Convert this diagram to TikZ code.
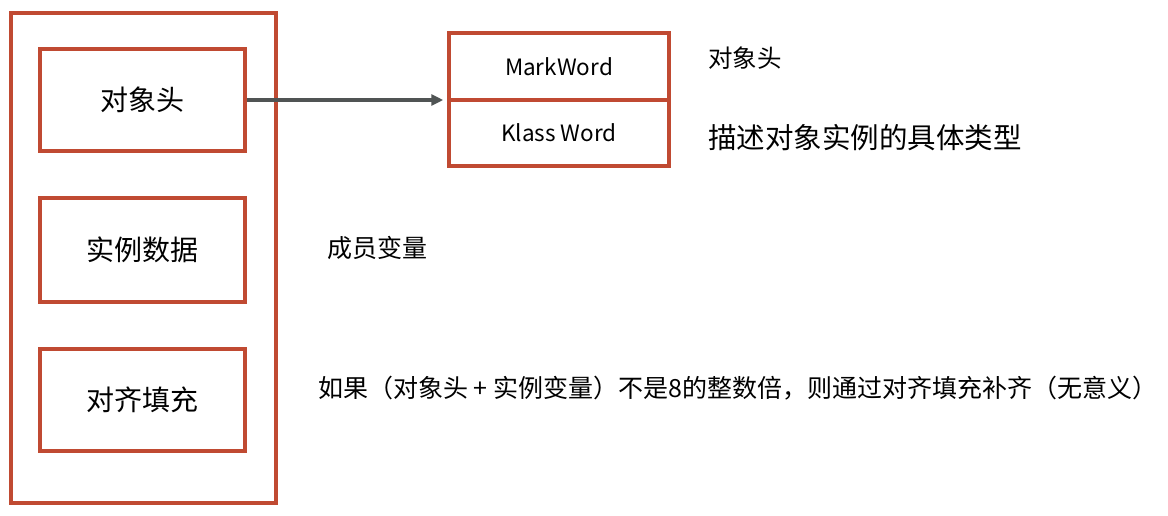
\documentclass[tikz,border=0pt]{standalone}
\usepackage{fontspec}
\setmainfont{Noto Sans CJK SC}
\usetikzlibrary{arrows.meta}
\definecolor{boxred}{RGB}{192,74,50}
\definecolor{arrowgray}{RGB}{80,84,84}
\begin{document}
\begin{tikzpicture}[x=1pt,y=-1pt,
  redbox/.style={draw=boxred,line width=3.5pt,rectangle,inner sep=0pt},
  lbl/.style={font=\fontsize{28}{32}\selectfont,text=black},
  small/.style={font=\fontsize{22.5}{26}\selectfont,text=black},
  note/.style={text=black,inner sep=0pt}]
\useasboundingbox (0,0) rectangle (1168,515);
\fill[white] (0,0) rectangle (1168,515);
% outer box
\node[redbox,minimum width=265pt,minimum height=490pt] (outer) at (143.5,258) {};
% inner boxes
\node[redbox,minimum width=205pt,minimum height=102pt,lbl] (hdr) at (142.5,100) {对象头};
\node[redbox,minimum width=205pt,minimum height=104pt,lbl] (data) at (142.5,250) {实例数据};
\node[redbox,minimum width=205pt,minimum height=102pt,lbl] (pad) at (142.5,400) {对齐填充};
% right two-cell box
\node[redbox,minimum width=220pt,minimum height=67pt,small] (mw) at (559,66.5) {MarkWord};
\node[redbox,minimum width=220pt,minimum height=66pt,small] (kw) at (559,133) {Klass Word};
\coordinate (tip) at (hdr.east -| mw.west);
% arrow
\draw[arrowgray,line width=3.2pt,-{Triangle[length=12pt,width=11pt]}] (hdr.east) -- ([xshift=-4pt]tip);
% notes
\node[note,font=\fontsize{24.5}{28}\selectfont,anchor=west] (n1) at (708,58) {对象头};
\node[note,font=\fontsize{28.5}{33}\selectfont,anchor=west] (n2) at (708,138) {描述对象实例的具体类型};
\node[note,font=\fontsize{25}{30}\selectfont,anchor=west] (n3) at (327,248) {成员变量};
\node[note,font=\fontsize{25}{30}\selectfont,anchor=west] (n4) at (318,388) {如果（对象头 + 实例变量）不是8的整数倍，则通过对齐填充补齐（无意义）};
\end{tikzpicture}
\end{document}
